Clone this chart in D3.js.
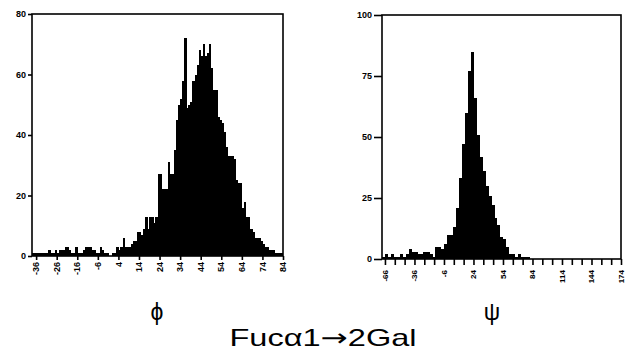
<!DOCTYPE html>
<html>
<head>
<meta charset="utf-8">
<script src="https://cdn.jsdelivr.net/npm/d3@7/dist/d3.min.js"></script>
<style>
  body { margin: 0; background: #fff; }
  svg { display: block; }
</style>
</head>
<body>
<svg id="chart" width="626" height="360"></svg>
<script>
// Torsion-angle histograms for the Fucα1→2Gal linkage.

// phi: 1-degree bins starting at -38
const phiBinStart = -38;
const phiBinWidth = 1;
const phiCounts = [
  1, 1, 1, 1, 1, 1, 1, 1, 2, 1,      // -38 .. -29
  1, 2, 1, 2, 2, 2, 3, 3, 2, 1,      // -28 .. -19
  1, 3, 1, 1, 1, 2, 3, 3, 3, 2,      // -18 .. -9
  2, 1, 1, 3, 2, 1, 1, 0, 0, 1,      // -8 .. 1
  1, 3, 2, 3, 6, 3, 3, 3, 4, 5,      // 2 .. 11
  5, 8, 8, 7, 9, 13, 9, 13, 13, 11,  // 12 .. 21
  13, 27, 27, 22, 22, 22, 31, 27, 27, 35, // 22 .. 31
  45, 50, 52, 58, 72, 49, 50, 51, 58, 60, // 32 .. 41
  63, 68, 66, 70, 66, 67, 70, 62, 55, 55, // 42 .. 51
  46, 45, 44, 41, 36, 33, 33, 33, 32, 25, // 52 .. 61
  24, 24, 16, 18, 13, 13, 9, 8, 6, 6,     // 62 .. 71
  6, 5, 4, 3, 3, 2, 2, 2, 1, 1,           // 72 .. 81
  1, 1                                    // 82 .. 83
];
const phiXDomain = [-38, 84];
const phiYDomain = [0, 80];
const phiXTicks = [-36, -26, -16, -6, 4, 14, 24, 34, 44, 54, 64, 74, 84];
const phiXLabels = [-36, -26, -16, -6, 4, 14, 24, 34, 44, 54, 64, 74, 84];
const phiYTicks = [0, 20, 40, 60, 80];

// psi: 3-degree bins starting at -69
const psiBinStart = -69;
const psiBinWidth = 3;
const psiCounts = [
  1, 2, 1, 2, 1, 1, 2, 1, 2, 4,      // -69 .. -42
  3, 3, 2, 2, 3, 3, 2, 1, 5, 5,      // -39 .. -12
  4, 6, 10, 10, 13, 21, 33, 47, 60, 77, // -9 .. 18
  85, 66, 51, 42, 36, 30, 26, 22, 17, 14, // 21 .. 48
  9, 8, 5, 2, 2, 1, 2, 1, 1, 1          // 51 .. 78
];
const psiXDomain = [-69, 174];
const psiYDomain = [0, 100];
const psiXTicks = [-66, -56, -46, -36, -26, -16, -6, 4, 14, 24, 34, 44, 54,
                   64, 74, 84, 94, 104, 114, 124, 134, 144, 154, 164, 174];
const psiXLabels = [-66, -36, -6, 24, 54, 84, 114, 144, 174];
const psiYTicks = [0, 25, 50, 75, 100];

const svg = d3.select("#chart");
const sans = "Liberation Sans, Arial, sans-serif";

function drawPanel(p) {
  const x = d3.scaleLinear().domain(p.xDomain).range([p.left, p.right]);
  const y = d3.scaleLinear().domain(p.yDomain).range([p.bottom, p.top]);
  const g = svg.append("g");

  // histogram bars
  g.append("g")
    .selectAll("rect")
    .data(p.counts)
    .join("rect")
    .attr("x", (d, i) => x(p.binStart + i * p.binWidth))
    .attr("width", (d, i) => x(p.binStart + (i + 1) * p.binWidth) - x(p.binStart + i * p.binWidth) + 0.4)
    .attr("y", d => y(d))
    .attr("height", d => y(0) - y(d))
    .attr("fill", "#000")
    .attr("shape-rendering", "crispEdges");

  // frame
  g.append("rect")
    .attr("x", p.left)
    .attr("y", p.top)
    .attr("width", p.right - p.left)
    .attr("height", p.bottom - p.top)
    .attr("fill", "none")
    .attr("stroke", "#000")
    .attr("stroke-width", 1.6);

  // y axis
  const ya = g.append("g")
    .attr("transform", `translate(${p.left},0)`)
    .call(d3.axisLeft(y).tickValues(p.yTicks).tickSize(p.yTickSize).tickPadding(2));
  ya.select(".domain").remove();
  ya.selectAll("line").attr("stroke-width", 1.6);
  ya.selectAll("text")
    .attr("font-family", sans)
    .attr("font-weight", "bold")
    .attr("font-size", 9)
    .attr("fill", "#000");

  // x axis
  const labelSet = new Set(p.xLabels);
  const xa = g.append("g")
    .attr("transform", `translate(0,${p.bottom})`)
    .call(d3.axisBottom(x).tickValues(p.xTicks).tickSize(p.xTickSize)
      .tickFormat(d => labelSet.has(d) ? String(d) : ""));
  xa.select(".domain").remove();
  xa.selectAll("line").attr("stroke-width", 1.6);
  xa.selectAll("text")
    .attr("font-family", sans)
    .attr("font-weight", "bold")
    .attr("font-size", p.xLabelSize)
    .attr("fill", "#000")
    .attr("y", 0)
    .attr("x", -p.labelGap)
    .attr("dy", "0.3em")
    .attr("transform", "rotate(-90)")
    .style("text-anchor", "end");

  // angle symbol under the panel
  g.append("text")
    .attr("x", p.symbolX)
    .attr("y", 320)
    .attr("text-anchor", "middle")
    .attr("font-family", sans)
    .attr("font-size", 23)
    .attr("fill", "#000")
    .text(p.symbol);
}

drawPanel({
  counts: phiCounts, binStart: phiBinStart, binWidth: phiBinWidth,
  xDomain: phiXDomain, yDomain: phiYDomain,
  xTicks: phiXTicks, xLabels: phiXLabels, yTicks: phiYTicks,
  left: 32, right: 283, top: 14, bottom: 256,
  xTickSize: 4, yTickSize: 4, labelGap: 6, xLabelSize: 9,
  symbol: "ϕ", symbolX: 157
});

drawPanel({
  counts: psiCounts, binStart: psiBinStart, binWidth: psiBinWidth,
  xDomain: psiXDomain, yDomain: psiYDomain,
  xTicks: psiXTicks, xLabels: psiXLabels, yTicks: psiYTicks,
  left: 382, right: 621, top: 15, bottom: 259,
  xTickSize: 6, yTickSize: 8, labelGap: 11, xLabelSize: 8,
  symbol: "ψ", symbolX: 492
});

// linkage title
const title = svg.append("text")
  .attr("x", 323)
  .attr("y", 346)
  .attr("text-anchor", "middle")
  .attr("font-family", sans)
  .attr("font-size", 24)
  .attr("fill", "#000")
  .attr("textLength", 187)
  .attr("lengthAdjust", "spacingAndGlyphs");
title.append("tspan").text("Fucα1");
title.append("tspan").attr("font-family", "DejaVu Sans").text("→");
title.append("tspan").text("2Gal");
</script>
</body>
</html>
